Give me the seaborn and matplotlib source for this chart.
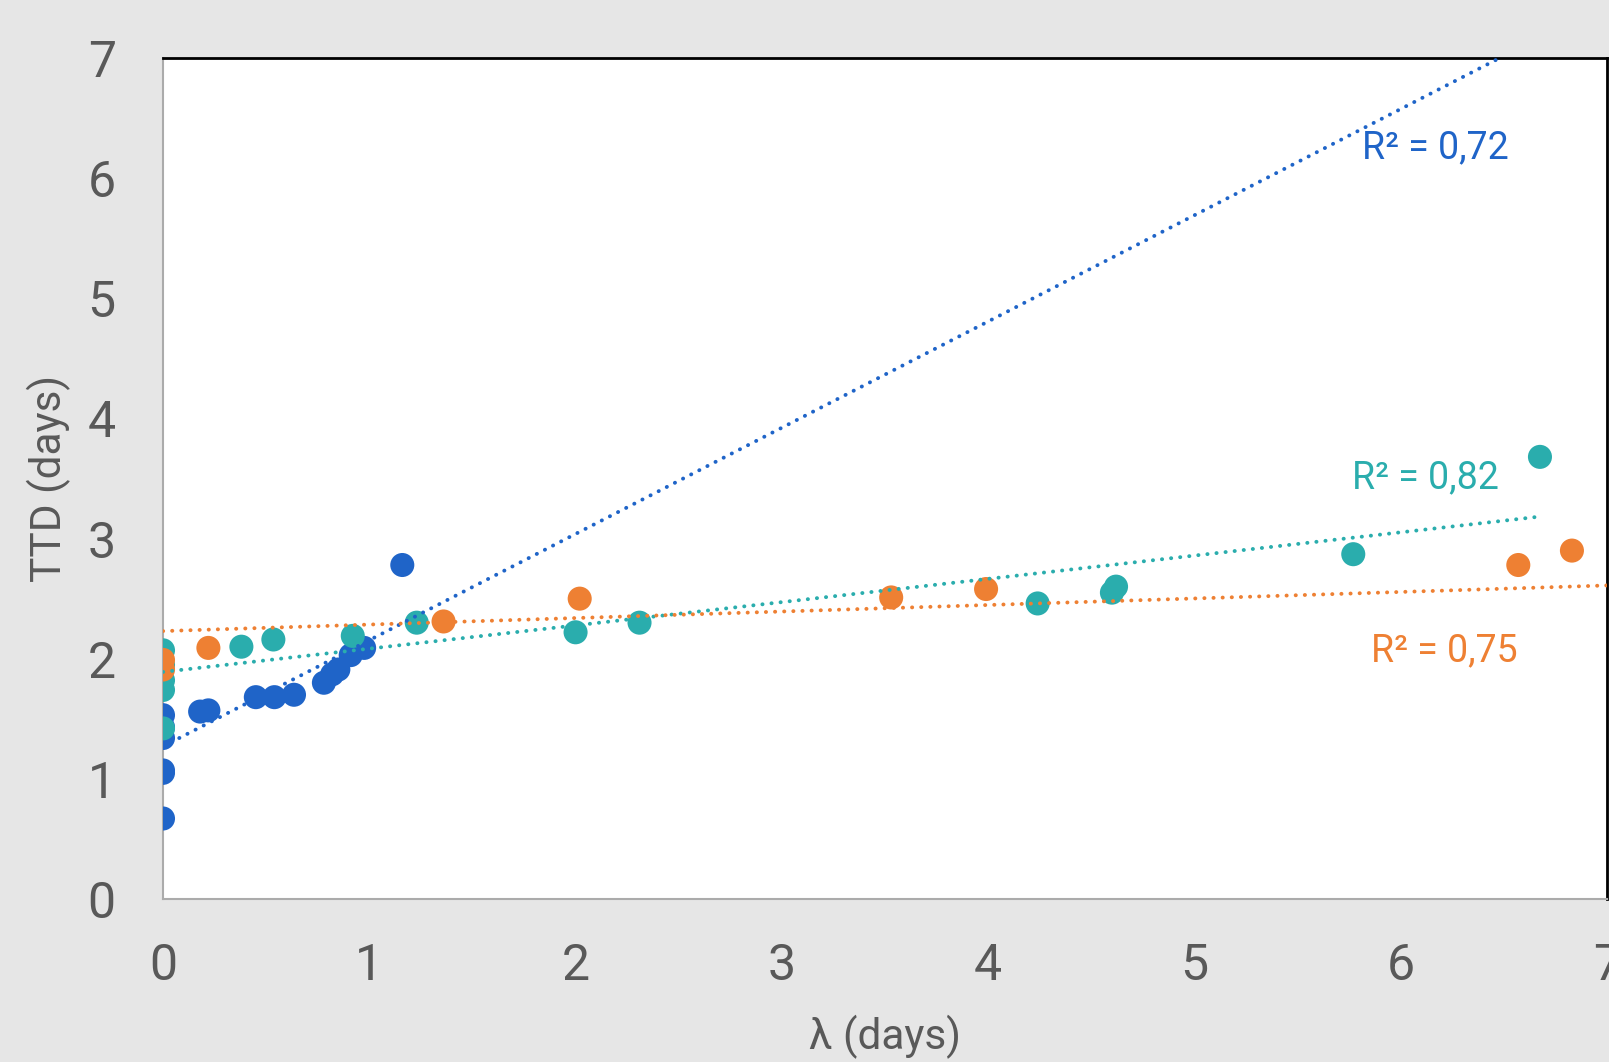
import numpy as np
import pandas as pd
import matplotlib
matplotlib.use("Agg")
import matplotlib.pyplot as plt
import seaborn as sns

# ---- data ----
blue_x = [0, 0, 0, 0, 0, 0, 0.18, 0.22, 0.45, 0.54, 0.635, 0.78, 0.82, 0.85, 0.91, 0.975, 1.16]
blue_y = [0.67, 1.05, 1.07, 1.34, 1.43, 1.53, 1.56, 1.57, 1.68, 1.68, 1.70, 1.80, 1.87, 1.91, 2.03, 2.09, 2.78]

teal_x = [0, 0, 0, 0, 0, 0.38, 0.535, 0.92, 1.23, 2.00, 2.31, 4.24, 4.60, 4.62, 5.77, 6.675]
teal_y = [2.07, 1.95, 1.82, 1.74, 1.42, 2.10, 2.16, 2.19, 2.30, 2.22, 2.30, 2.46, 2.55, 2.60, 2.87, 3.68]

orange_x = [0, 0, 0.22, 1.36, 2.02, 3.53, 3.99, 6.57, 6.83]
orange_y = [1.99, 1.91, 2.09, 2.31, 2.50, 2.51, 2.58, 2.78, 2.90]

# trend lines (end points)
blue_trend_x = [0, 6.48]
blue_trend_y = [1.27, 7.0]
teal_trend_x = [0, 6.66]
teal_trend_y = [1.89, 3.18]
orange_trend_x = [0, 7.0]
orange_trend_y = [2.23, 2.61]

r2_labels = ["R² = 0,72", "R² = 0,82", "R² = 0,75"]
series_names = ["blue", "teal", "orange"]
x_ticks = [0, 1, 2, 3, 4, 5, 6, 7]
y_ticks = [0, 1, 2, 3, 4, 5, 6, 7]

# ---- styling ----
BLUE = "#1F64C8"
TEAL = "#2AADAD"
ORANGE = "#EE8033"
GREY_TXT = "#595959"
BG = "#E6E6E6"

sns.set_theme(style="white")
plt.rcParams["font.family"] = ["Roboto", "DejaVu Sans"]
plt.rcParams["font.weight"] = "normal"

df = pd.concat([
    pd.DataFrame({"x": blue_x, "y": blue_y, "s": "blue"}),
    pd.DataFrame({"x": teal_x, "y": teal_y, "s": "teal"}),
    pd.DataFrame({"x": orange_x, "y": orange_y, "s": "orange"}),
], ignore_index=True)

fig = plt.figure(figsize=(16.09, 10.62), dpi=100, facecolor=BG)
ax = fig.add_axes([163 / 1609, 1 - 899 / 1062, (1607 - 163) / 1609, (899 - 58) / 1062])
ax.set_facecolor("white")

sns.scatterplot(data=df, x="x", y="y", hue="s", hue_order=series_names,
                palette={"blue": BLUE, "teal": TEAL, "orange": ORANGE},
                s=300, linewidth=0, alpha=1, legend=False, ax=ax, zorder=3)

dot = dict(linestyle=(0, (0.05, 2.3)), linewidth=2.8, dash_capstyle="round", zorder=4)
ax.plot(blue_trend_x, blue_trend_y, color=BLUE, **dot)
ax.plot(teal_trend_x, teal_trend_y, color=TEAL, **dot)
ax.plot(orange_trend_x, orange_trend_y, color=ORANGE, **dot)

ax.set_xlim(0, 7)
ax.set_ylim(0, 7)
ax.set_xticks(x_ticks)
ax.set_yticks(y_ticks)
ax.tick_params(axis="both", length=0, labelsize=36, labelcolor=GREY_TXT)
ax.tick_params(axis="x", pad=31)
ax.tick_params(axis="y", pad=34)

for side in ["left", "bottom"]:
    ax.spines[side].set_color("#ABABAB")
    ax.spines[side].set_linewidth(1.5)
for side in ["top", "right"]:
    ax.spines[side].set_color("black")
    ax.spines[side].set_linewidth(2.0)

ax.set_xlabel("λ (days)", fontsize=30.5, color=GREY_TXT)
ax.set_ylabel("TTD (days)", fontsize=30.5, color=GREY_TXT)
ax.xaxis.set_label_coords(0.5, -0.138)
ax.yaxis.set_label_coords(-0.064, 0.5)

ax.text(6.17, 6.25, r2_labels[0], color=BLUE, fontsize=27, ha="center", va="center")
ax.text(6.12, 3.51, r2_labels[1], color=TEAL, fontsize=27, ha="center", va="center")
ax.text(6.21, 2.07, r2_labels[2], color=ORANGE, fontsize=27, ha="center", va="center")

fig.savefig("out.png", dpi=100, facecolor=BG)
